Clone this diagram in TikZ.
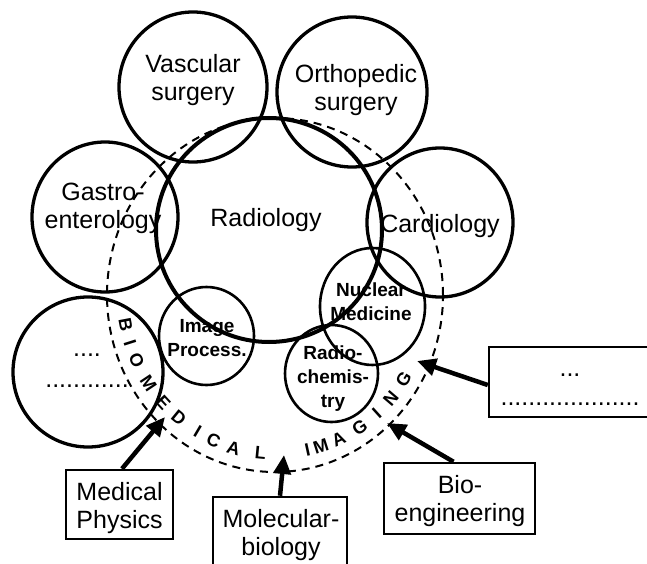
\documentclass[tikz,border=0pt]{standalone}
\usepackage{fontspec}
\setmainfont{Liberation Sans}
\usetikzlibrary{shapes.geometric,arrows.meta,calc}
\begin{document}
\begin{tikzpicture}[x=1pt,y=-1pt,
  bigc/.style={draw, ellipse, line width=3.3pt, inner sep=0pt},
  smallc/.style={draw, ellipse, line width=2.6pt, inner sep=0pt},
  lbl/.style={align=center, font=\fontsize{25pt}{28pt}\selectfont, inner sep=0pt},
  slbl/.style={align=center, font=\fontsize{19pt}{24pt}\selectfont\bfseries, inner sep=0pt},
  boxn/.style={draw, rectangle, line width=2.5pt, inner sep=0pt},
  arr/.style={line width=4.5pt, -{Triangle[length=19pt,width=17pt]}},
  bml/.style={font=\fontsize{18pt}{18pt}\selectfont\bfseries, inner sep=0pt},
  dashell/.style={draw, ellipse, inner sep=0pt, line width=2pt, dash pattern=on 8pt off 6pt}
]
\useasboundingbox (0,0) rectangle (647,564);
\clip (0,0) rectangle (647,564);

% circles
\node[bigc, minimum width=148pt, minimum height=150pt] (vasc) at (193,87) {};
\node[bigc, minimum width=150pt, minimum height=150pt] (orth) at (352,92) {};
\node[bigc, minimum width=146pt, minimum height=150pt] (gast) at (105,217) {};
\node[bigc, minimum width=146pt, minimum height=149pt] (card) at (440,222.5) {};
\node[bigc, minimum width=150pt, minimum height=150pt] (dots) at (88,372) {};
\node[bigc, line width=4pt, minimum width=226pt, minimum height=224pt] (radi) at (269,230) {};
\node[smallc, minimum width=95pt, minimum height=98pt] (imgp) at (206.5,336) {};
\node[smallc, minimum width=105pt, minimum height=117pt] (nucm) at (372.5,306.5) {};
\node[smallc, minimum width=93pt, minimum height=97pt] (rchm) at (331.5,373.5) {};
\node[dashell, minimum width=336pt, minimum height=354pt] (bmi) at (275,295) {};

% circle labels
\node[lbl] (vascT) at (193,80) {Vascular\\surgery};
\node[lbl] (orthT) at (356,90.5) {Orthopedic\\surgery};
\node[lbl] (gastT) at (103,208.7) {Gastro-\\enterology};
\node[lbl] (radiT) at (266,219.6) {Radiology};
\node[lbl] (cardT) at (440,225.7) {Cardiology};
\node[align=center, font=\fontsize{25pt}{31pt}\selectfont, inner sep=0pt] (dotsT) at (87,371) {....\\............};
\node[slbl] (imgpT) at (207,338.5) {Image\\Process.};
\node[slbl] (nucmT) at (371,302) {Nuclear\\Medicine};
\node[slbl] (rchmT) at (333,378.5) {Radio-\\chemis-\\try};

% BIOMEDICAL IMAGING
\coordinate (bmc) at (275,295);
\foreach \ch/\t [count=\i] in {B/190.8,I/197.6,O/204.4,M/213.7,E/222.7,D/230.7,I/239.4,C/246.2,A/254.2,L/264.5,I/282.3,M/287.6,A/294.8,G/303.9,I/312.1,N/319.6,G/327.8}
  \node[bml, rotate=\t+90] (bm\i) at ($(bmc)+(\t:152pt and 159pt)$) {\ch};

% boxes
\node[boxn, minimum width=107pt, minimum height=69pt] (mp) at (119.5,504.5) {};
\node[lbl] (mpT) at (119.5,507.7) {Medical\\Physics};
\node[boxn, minimum width=134pt, minimum height=83pt] (mol) at (280,538.5) {};
\node[lbl] (molT) at (281,535.5) {Molecular-\\biology};
\node[boxn, minimum width=151pt, minimum height=71pt] (bio) at (459.5,498.5) {};
\node[lbl] (bioT) at (460,501) {Bio-\\engineering};
\node[boxn, minimum width=162pt, minimum height=70pt] (oth) at (570,382) {};
\node[align=center, font=\fontsize{25pt}{29pt}\selectfont, inner sep=0pt] (othT) at (570,389.5) {...\\....................};

% arrow tips
\coordinate (tMP) at (165,417);
\coordinate (tMol) at (284,455);
\coordinate (tBio) at (387,423);
\coordinate (tOth) at (417,361);

\draw[arr] ($(mp.north)+(2.5,0)$) -- (tMP);
\draw[arr] (mol.north) -- (tMol);
\draw[arr] ($(bio.north)+(-6,0)$) -- (tBio);
\draw[arr] ($(oth.west)+(0,3)$) -- (tOth);
\end{tikzpicture}
\end{document}
